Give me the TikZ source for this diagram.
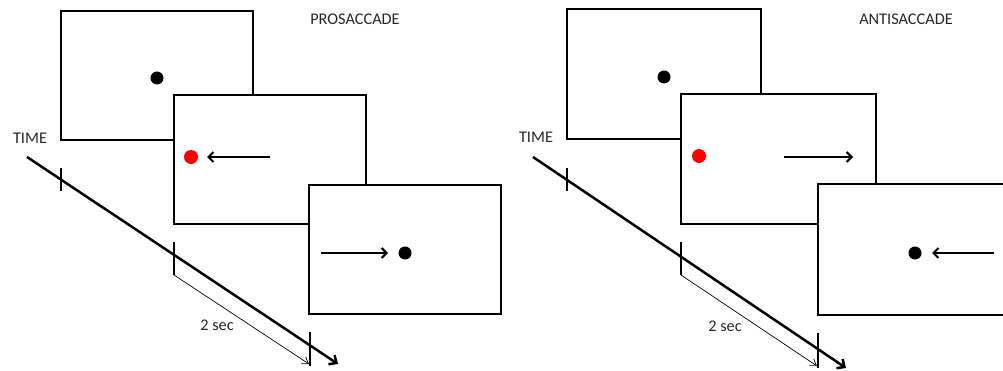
\documentclass[tikz,border=0pt]{standalone}
\usepackage{fontspec}
\setmainfont{Carlito}
\usetikzlibrary{arrows.meta}
\begin{document}
\begin{tikzpicture}[x=1pt,y=-1pt,
  screen/.style={draw,line width=2pt,fill=white,minimum width=192pt,minimum height=129pt,inner sep=0pt},
  fixdot/.style={circle,fill=black,minimum size=13pt,inner sep=0pt},
  cuedot/.style={circle,fill=red,minimum size=14pt,inner sep=0pt},
  gaze/.style={line width=2pt,-{Straight Barb[length=5pt,width=10pt,line width=2pt]}},
  timeline/.style={line width=2.5pt,-{Straight Barb[length=6pt,width=11pt,line width=2.5pt]}},
  tickmark/.style={line width=2pt},
  interval/.style={line width=0.7pt,-{Straight Barb[length=6pt,width=8pt,line width=0.7pt]}},
  lab/.style={font=\fontsize{16.3}{19}\selectfont,text=black!85,inner sep=0pt}]
\useasboundingbox (0,0) rectangle (1003,371);
\clip (0,0) rectangle (1003,371);

% ---------------- PROSACCADE ----------------
\node[lab] (ptitle) at (355,19) {PROSACCADE};
\node[screen] (p1) at (157,75.5) {};
\node[fixdot] (p1dot) at (157,78) {};
\node[screen] (p2) at (270,159.5) {};
\node[cuedot] (p2dot) at (191,157) {};
\coordinate (p2a) at (270,157);
\coordinate (p2b) at (207,157);
\draw[gaze] (p2a) -- (p2b);
\node[screen] (p3) at (405,249.5) {};
\node[fixdot] (p3dot) at (405,253) {};
\coordinate (p3a) at (321,253);
\coordinate (p3b) at (388,253);
\draw[gaze] (p3a) -- (p3b);
\node[lab] (ptime) at (30,138) {TIME};
\coordinate (pt0) at (27,157);
\coordinate (pt1) at (338,364);
\draw[timeline] (pt0) -- (pt1);
\coordinate (pk1a) at (61,168); \coordinate (pk1b) at (61,191);
\coordinate (pk2a) at (174,242); \coordinate (pk2b) at (174,275);
\coordinate (pk3a) at (310,332); \coordinate (pk3b) at (310,366);
\draw[tickmark] (pk1a) -- (pk1b);
\draw[tickmark] (pk2a) -- (pk2b);
\draw[tickmark] (pk3a) -- (pk3b);
\coordinate (pi1) at (309,364);
\draw[interval] (pk2b) -- (pi1);
\node[lab] (psec) at (217,325) {2 sec};

% ---------------- ANTISACCADE ----------------
\node[lab] (atitle) at (906,19) {ANTISACCADE};
\node[screen,minimum width=194pt,minimum height=130pt] (a1) at (664,74) {};
\node[fixdot] (a1dot) at (664,77) {};
\node[screen,minimum width=195pt,minimum height=130pt] (a2) at (778.5,159) {};
\node[cuedot] (a2dot) at (699,156) {};
\coordinate (a2a) at (784,157);
\coordinate (a2b) at (853,157);
\draw[gaze] (a2a) -- (a2b);
\node[screen,minimum width=194pt,minimum height=131pt] (a3) at (915,249.5) {};
\node[fixdot] (a3dot) at (915,253) {};
\coordinate (a3a) at (994,253);
\coordinate (a3b) at (932,253);
\draw[gaze] (a3a) -- (a3b);
\node[lab] (atime) at (536,137) {TIME};
\coordinate (at0) at (533,157);
\coordinate (at1) at (846,368);
\draw[timeline] (at0) -- (at1);
\coordinate (ak1a) at (567,168); \coordinate (ak1b) at (567,191);
\coordinate (ak2a) at (681,242); \coordinate (ak2b) at (681,275);
\coordinate (ak3a) at (818,333); \coordinate (ak3b) at (818,368);
\draw[tickmark] (ak1a) -- (ak1b);
\draw[tickmark] (ak2a) -- (ak2b);
\draw[tickmark] (ak3a) -- (ak3b);
\coordinate (ai1) at (817,366);
\draw[interval] (ak2b) -- (ai1);
\node[lab] (asec) at (725,326) {2 sec};
\end{tikzpicture}
\end{document}
